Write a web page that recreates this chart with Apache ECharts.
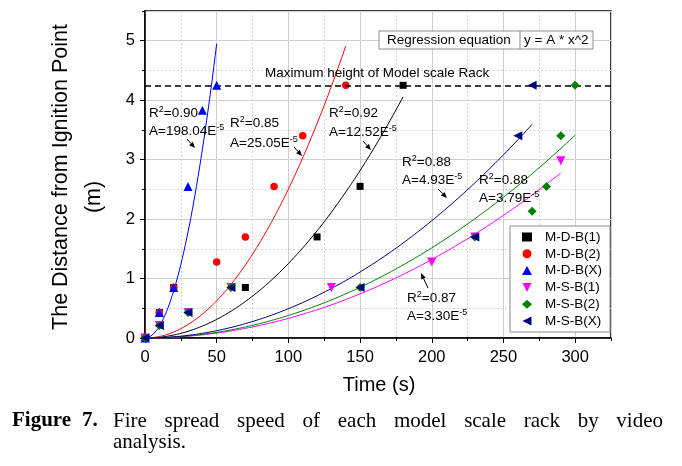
<!DOCTYPE html>
<html><head><meta charset="utf-8">
<script src="https://cdn.jsdelivr.net/npm/echarts@6/dist/echarts.min.js"></script>
<style>html,body{margin:0;padding:0;background:#fff}#c{width:682px;height:466px}</style>
</head><body><div id="c"></div>
<script>
// ---- data ----
const seriesNames = ['M-D-B(1)','M-D-B(2)','M-D-B(X)','M-S-B(1)','M-S-B(2)','M-S-B(X)'];
const mdb1 = [[0,0],[10,0.43],[20,0.85],[70,0.85],[120,1.7],[150,2.55],[180,4.25]];
const mdb2 = [[0,0],[10,0.43],[20,0.85],[50,1.28],[70,1.7],[90,2.55],[110,3.4],[140,4.25]];
const mdbX = [[0,0],[10,0.43],[20,0.85],[30,2.55],[40,3.83],[50,4.25]];
const msb1 = [[0,0],[10,0.21],[30,0.43],[60,0.85],[130,0.85],[200,1.28],[230,1.7],[290,2.98]];
const msb2 = [[0,0],[10,0.21],[30,0.43],[60,0.85],[150,0.85],[230,1.7],[270,2.13],[280,2.55],[290,3.4],[300,4.25]];
const msbX = [[0,0],[10,0.21],[30,0.43],[60,0.85],[150,0.85],[230,1.7],[260,3.4],[270,4.25]];
// regression y = A * x^2, coefficients as printed on the chart
const fitA = [12.52e-5, 25.05e-5, 198.04e-5, 3.30e-5, 3.79e-5, 4.93e-5];
const fitALabel = ['12.52','25.05','198.04','3.30','3.79','4.93'];
const fitR2 = ['0.92','0.85','0.90','0.87','0.88','0.88'];
const fitXMax = [180, 140, 50, 290, 300, 270];
const maxHeight = 4.25;
const captionLine1 = ['Fire','spread','speed','of','each','model','scale','rack','by','video'];
const captionLine2 = 'analysis.';

const allData = [mdb1, mdb2, mdbX, msb1, msb2, msbX];
const colors = ['#000000','#ff0000','#0000ff','#ff00ff','#008000','#000080'];
const symbols = ['rect','circle','triangle','triangle','diamond','triangle'];
const rotates = [0,0,0,180,0,90];
const sizes = [7,7.5,9,9,9,9];
const legendIcons = ['rect','circle','triangle','path://M0,0L10,0L5,10Z','diamond','path://M10,0L10,10L0,5Z'];

const F = 'Liberation Sans, Arial, sans-serif';
const chart = echarts.init(document.getElementById('c'));

function fitCurve(A, xmax){
  const pts = [];
  for (let x = 0; x <= xmax; x += 1) pts.push([x, A * x * x]);
  return pts;
}

const series = [];
fitA.forEach((A, i) => {
  series.push({
    name: 'fit' + i, type: 'line', data: fitCurve(A, fitXMax[i]),
    showSymbol: false, silent: true, z: 2,
    lineStyle: {color: colors[i], width: 1},
    markLine: i === 0 ? {silent: true, symbol: 'none', label: {show: false},
      lineStyle: {color: '#000', width: 1.5, type: [6,4]}, data: [{yAxis: maxHeight}]} : undefined
  });
});
allData.forEach((d, i) => {
  series.push({
    name: seriesNames[i], type: 'scatter', data: d, z: 3 + i,
    symbol: symbols[i], symbolSize: sizes[i], symbolRotate: rotates[i],
    itemStyle: {color: colors[i], opacity: 1}, clip: false
  });
});

const rich = {
  n: {fontSize: 13.5, fontFamily: F, color: '#000', lineHeight: 16},
  s: {fontSize: 9, fontFamily: F, color: '#000', lineHeight: 9, verticalAlign: 'top'}
};
function ann(x, y1, y2, r2, a){
  return [
    {type: 'text', x: x, y: y1, z: 50, style: {text: '{n|R}{s|2}{n|=' + r2 + '}', rich: rich, verticalAlign: 'middle'}},
    {type: 'text', x: x, y: y2, z: 50, style: {text: '{n|A=' + a + 'E}{s|-5}', rich: rich, verticalAlign: 'middle'}}
  ];
}
function arrow(x1, y1, x2, y2){
  const dx = x2 - x1, dy = y2 - y1, L = Math.sqrt(dx*dx + dy*dy);
  const ux = dx / L, uy = dy / L, hl = 6, hw = 2.5;
  const bx = x2 - ux * hl, by = y2 - uy * hl;
  return [
    {type: 'line', z: 50, shape: {x1: x1, y1: y1, x2: bx, y2: by}, style: {stroke: '#000', lineWidth: 1}},
    {type: 'polygon', z: 50, shape: {points: [[x2, y2], [bx - uy*hw, by + ux*hw], [bx + uy*hw, by - ux*hw]]}, style: {fill: '#000'}}
  ];
}

const graphics = [].concat(
  ann(149, 113, 131, fitR2[2], fitALabel[2]), arrow(187, 139, 195, 148),
  ann(230, 123, 143, fitR2[1], fitALabel[1]), arrow(294, 147, 302, 156),
  ann(329, 113, 132, fitR2[0], fitALabel[0]), arrow(363, 141, 371, 150),
  ann(402, 162, 180, fitR2[5], fitALabel[5]), arrow(438, 189, 447, 198),
  ann(479, 180, 198, fitR2[4], fitALabel[4]),
  ann(407, 298, 316, fitR2[3], fitALabel[3]), arrow(428, 288, 421, 273),
  [
    {type: 'text', x: 265, y: 73, z: 50, style: {text: 'Maximum height of Model scale Rack', font: '13.5px ' + F, fill: '#000', verticalAlign: 'middle'}},
    {type: 'rect', z: 49, shape: {x: 379, y: 31, width: 214, height: 18}, style: {fill: '#fff', stroke: '#8c8c8c', lineWidth: 1}},
    {type: 'line', z: 50, shape: {x1: 520, y1: 31, x2: 520, y2: 49}, style: {stroke: '#8c8c8c', lineWidth: 1}},
    {type: 'text', x: 387, y: 40, z: 50, style: {text: 'Regression equation', font: '13.5px ' + F, fill: '#000', verticalAlign: 'middle'}},
    {type: 'text', x: 524, y: 40, z: 50, style: {text: 'y = A * x^2', font: '13.5px ' + F, fill: '#000', verticalAlign: 'middle'}},
    {type: 'text', x: 61, y: 177, rotation: Math.PI/2, z: 50, style: {text: 'The Distance from Ignition Point', font: '21.5px ' + F, fill: '#000', align: 'center', verticalAlign: 'middle'}},
    {type: 'text', x: 94, y: 197, rotation: Math.PI/2, z: 50, style: {text: '(m)', font: '21.5px ' + F, fill: '#000', align: 'center', verticalAlign: 'middle'}},
    {type: 'text', x: 379, y: 385, z: 50, style: {text: 'Time (s)', font: '20px ' + F, fill: '#000', align: 'center', verticalAlign: 'middle'}}
  ]
);
// caption: justified first line
const capFont = 'Liberation Serif, Times New Roman, serif';
const capSize = 21;
const ctx = document.createElement('canvas').getContext('2d');
ctx.font = capSize + 'px ' + capFont;
const capStart = 113, capEnd = 663;
const widths = captionLine1.map(w => ctx.measureText(w).width);
const totalW = widths.reduce((a, b) => a + b, 0);
const gap = (capEnd - capStart - totalW) / (captionLine1.length - 1);
let cx = capStart;
const capY1 = 421, capY2 = 442;
graphics.push({type: 'text', x: 12, y: capY1, style: {text: 'Figure', font: 'bold ' + capSize + 'px ' + capFont, fill: '#000', verticalAlign: 'middle'}});
graphics.push({type: 'text', x: 82, y: capY1, style: {text: '7.', font: 'bold ' + capSize + 'px ' + capFont, fill: '#000', verticalAlign: 'middle'}});
captionLine1.forEach((w, i) => {
  graphics.push({type: 'text', x: cx, y: capY1, style: {text: w, font: capSize + 'px ' + capFont, fill: '#000', verticalAlign: 'middle'}});
  cx += widths[i] + gap;
});
graphics.push({type: 'text', x: 113, y: capY2, style: {text: captionLine2, font: capSize + 'px ' + capFont, fill: '#000', verticalAlign: 'middle'}});

chart.setOption({
  animation: false,
  backgroundColor: '#fff',
  grid: {left: 145, right: 71, top: 11, bottom: 128, show: true, borderColor: '#000', borderWidth: 1.5, backgroundColor: 'transparent'},
  legend: {
    data: seriesNames.map((n, i) => ({name: n, icon: legendIcons[i], itemStyle: {color: colors[i]}})),
    orient: 'vertical', left: 510, top: 226,
    padding: [4, 8, 4, 12], itemGap: 2.8, itemWidth: 10, itemHeight: 9,
    backgroundColor: '#fff', borderColor: '#8c8c8c', borderWidth: 1,
    textStyle: {fontFamily: F, fontSize: 13.5, color: '#000', padding: [0,0,0,8]},
    selectedMode: false, z: 40
  },
  xAxis: [
    {type: 'value', min: 0, max: 325, interval: 50, position: 'bottom',
      axisLine: {show: true, onZero: false, lineStyle: {color: '#000', width: 1.5}},
      axisTick: {show: true, inside: false, length: 5, lineStyle: {color: '#000', width: 1}},
      axisLabel: {show: true, margin: 11, fontFamily: F, fontSize: 16.5, color: '#000', showMaxLabel: false,
        formatter: v => (v % 50 === 0 ? String(v) : '')},
      splitLine: {show: true, lineStyle: {color: '#c8c8c8', width: 1}}},
    {type: 'value', min: 0, max: 325, interval: 25, position: 'bottom',
      axisLine: {show: false}, axisLabel: {show: false},
      axisTick: {show: true, inside: false, length: 3, lineStyle: {color: '#000', width: 1}},
      splitLine: {show: true, lineStyle: {color: '#d6d6d6', width: 1, type: [2,2]}}}
  ],
  yAxis: [
    {type: 'value', min: 0, max: 5.5, interval: 1, position: 'left',
      axisLine: {show: true, onZero: false, lineStyle: {color: '#000', width: 1.5}},
      axisTick: {show: true, inside: false, length: 5, lineStyle: {color: '#000', width: 1}},
      axisLabel: {show: true, margin: 10, fontFamily: F, fontSize: 16.5, color: '#000', showMaxLabel: false,
        formatter: v => (Number.isInteger(v) ? String(v) : '')},
      splitLine: {show: true, lineStyle: {color: '#c8c8c8', width: 1}}},
    {type: 'value', min: 0, max: 5.5, interval: 0.5, position: 'left',
      axisLine: {show: false}, axisLabel: {show: false},
      axisTick: {show: true, inside: false, length: 3, lineStyle: {color: '#000', width: 1}},
      splitLine: {show: true, lineStyle: {color: '#d6d6d6', width: 1, type: [2,2]}}}
  ],
  series: series,
  graphic: graphics
});
</script></body></html>
